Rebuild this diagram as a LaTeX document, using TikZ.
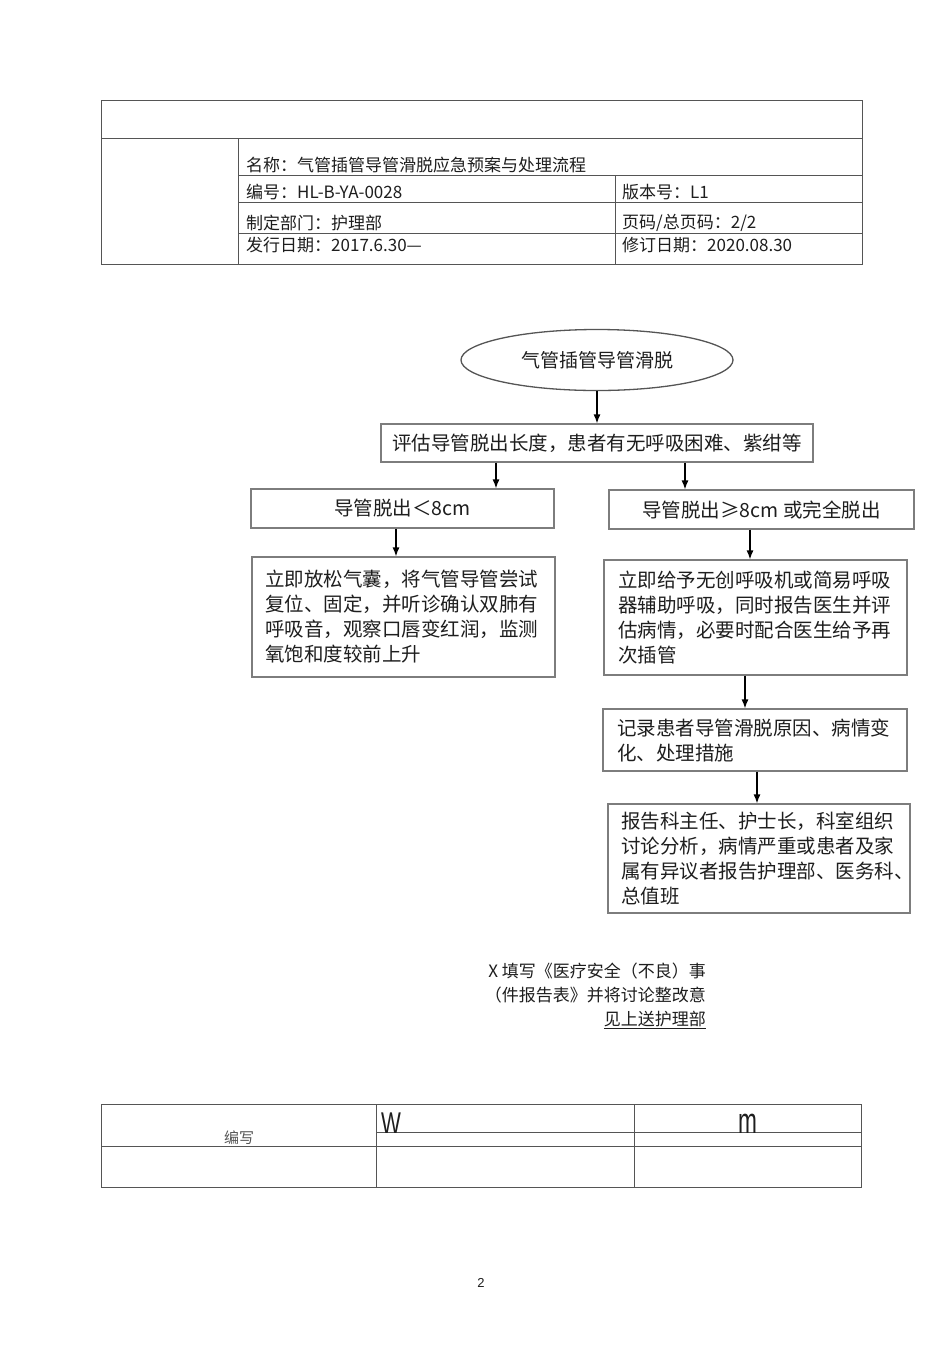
\documentclass[tikz,border=0pt]{standalone}
\usepackage{fontspec}
\setmainfont{Noto Sans CJK SC}
\setsansfont{Liberation Sans}
\usetikzlibrary{shapes.geometric,arrows.meta,positioning}
\definecolor{boxgray}{RGB}{125,125,125}
\definecolor{rulegray}{RGB}{85,85,85}
\definecolor{inkcolor}{RGB}{30,30,30}

\begin{document}
\begin{tikzpicture}[x=1pt, y=-1pt,
    every node/.style={inner sep=0pt, text=inkcolor},
    box/.style={rectangle, draw=boxgray, line width=1.2pt, font=\fontsize{19.5}{25}\selectfont},
    stepbox/.style={box, align=left},
    start/.style={ellipse, draw=rulegray, line width=1.3pt, minimum width=272pt, minimum height=61pt, font=\fontsize{19}{23}\selectfont},
    arrow/.style={-{Latex[length=9pt,width=7pt]}, line width=1.3pt, black},
    rule/.style={draw=rulegray, line width=0.9pt},
    head/.style={anchor=west, font=\fontsize{17}{20}\selectfont},
]
    \useasboundingbox[fill=white] (0,0) rectangle (950,1345);

    % Header table
    \draw[rule] (101,100) rectangle (862,264);
    \draw[rule] (101,138) -- (862,138);
    \draw[rule] (238,138) -- (238,264);
    \draw[rule] (238,175) -- (862,175);
    \draw[rule] (615,175) -- (615,264);
    \draw[rule] (238,202) -- (862,202);
    \draw[rule] (238,233) -- (862,233);

    \node[head] (title) at (246,165) {名称：气管插管导管滑脱应急预案与处理流程};
    \node[head] (code) at (246,192) {编号：HL-B-YA-0028};
    \node[head] (version) at (622,192) {版本号：L1};
    \node[head] (dept) at (246,223) {制定部门：护理部};
    \node[head] (pages) at (622,223) {页码/总页码：2/2};
    \node[head] (issued) at (246,245) {发行日期：2017.6.30—};
    \node[head] (revised) at (622,245) {修订日期：2020.08.30};

    % Flowchart
    \node[start] (slip) at (597,360) {气管插管导管滑脱};
    \node[box, minimum width=432pt, minimum height=38pt] (assess) at (597,443) {评估导管脱出长度，患者有无呼吸困难、紫绀等};
    \node[box, minimum width=303pt, minimum height=39pt] (short) at (402.5,508.5) {导管脱出＜8cm};
    \node[box, minimum width=305pt, minimum height=39pt] (long) at (761.5,509.5) {导管脱出≥8cm 或完全脱出};
    \node[stepbox, minimum width=303pt, minimum height=120pt, text width=277pt] (reset) at (403.5,617)
        {立即放松气囊，将气管导管尝试\\复位、固定，并听诊确认双肺有\\呼吸音，观察口唇变红润，监测\\氧饱和度较前上升};
    \node[stepbox, minimum width=303pt, minimum height=115pt, text width=275pt] (rescue) at (755.5,617.5)
        {立即给予无创呼吸机或简易呼吸\\器辅助呼吸，同时报告医生并评\\估病情，必要时配合医生给予再\\次插管};
    \node[stepbox, minimum width=304pt, minimum height=62pt, text width=276pt] (record) at (755,740)
        {记录患者导管滑脱原因、病情变\\化、处理措施};
    \node[stepbox, minimum width=302pt, minimum height=109pt, text width=276pt] (report) at (759,858.5)
        {报告科主任、护士长，科室组织\\讨论分析，病情严重或患者及家\\属有异议者报告护理部、医务科、\\总值班};

    % Arrows
    \draw[arrow] (slip) -- (assess);
    \coordinate (forkL) at ([xshift=-101pt]assess.south);
    \coordinate (forkR) at ([xshift=88pt]assess.south);
    \draw[arrow] (forkL) -- (forkL |- short.north);
    \draw[arrow] (forkR) -- (forkR |- long.north);
    \coordinate (dropL) at ([xshift=-6.5pt]short.south);
    \draw[arrow] (dropL) -- (dropL |- reset.north);
    \coordinate (dropR) at ([xshift=-11.5pt]long.south);
    \draw[arrow] (dropR) -- (dropR |- rescue.north);
    \coordinate (dropA) at ([xshift=-10.5pt]rescue.south);
    \draw[arrow] (dropA) -- (dropA |- record.north);
    \coordinate (dropB) at ([xshift=2pt]record.south);
    \draw[arrow] (dropB) -- (dropB |- report.north);

    % Note below the chart
    \node[anchor=east, align=right, font=\fontsize{17}{24}\selectfont] (note) at (706,996)
        {X 填写《医疗安全（不良）事\\（件报告表》并将讨论整改意\\\underline{见上送护理部}};

    % Signature table
    \draw[rule] (101,1104) rectangle (861,1187);
    \draw[rule] (101,1146) -- (861,1146);
    \draw[rule] (376,1104) -- (376,1187);
    \draw[rule] (634,1104) -- (634,1187);
    \draw[rule] (376,1132) -- (861,1132);
    \node[font=\fontsize{15}{18}\selectfont, text=rulegray] (author) at (239,1138) {编写};
    \node[anchor=base west, font=\sffamily\fontsize{30}{30}\selectfont] (wmark) at (381,1133) {\scalebox{0.7}[1]{W}};
    \node[anchor=base west, font=\sffamily\fontsize{36}{36}\selectfont] (mmark) at (738,1133) {\scalebox{0.63}[1]{m}};

    % Page number
    \node[font=\sffamily\fontsize{13}{13}\selectfont] (pageno) at (481,1283) {2};
\end{tikzpicture}
\end{document}
